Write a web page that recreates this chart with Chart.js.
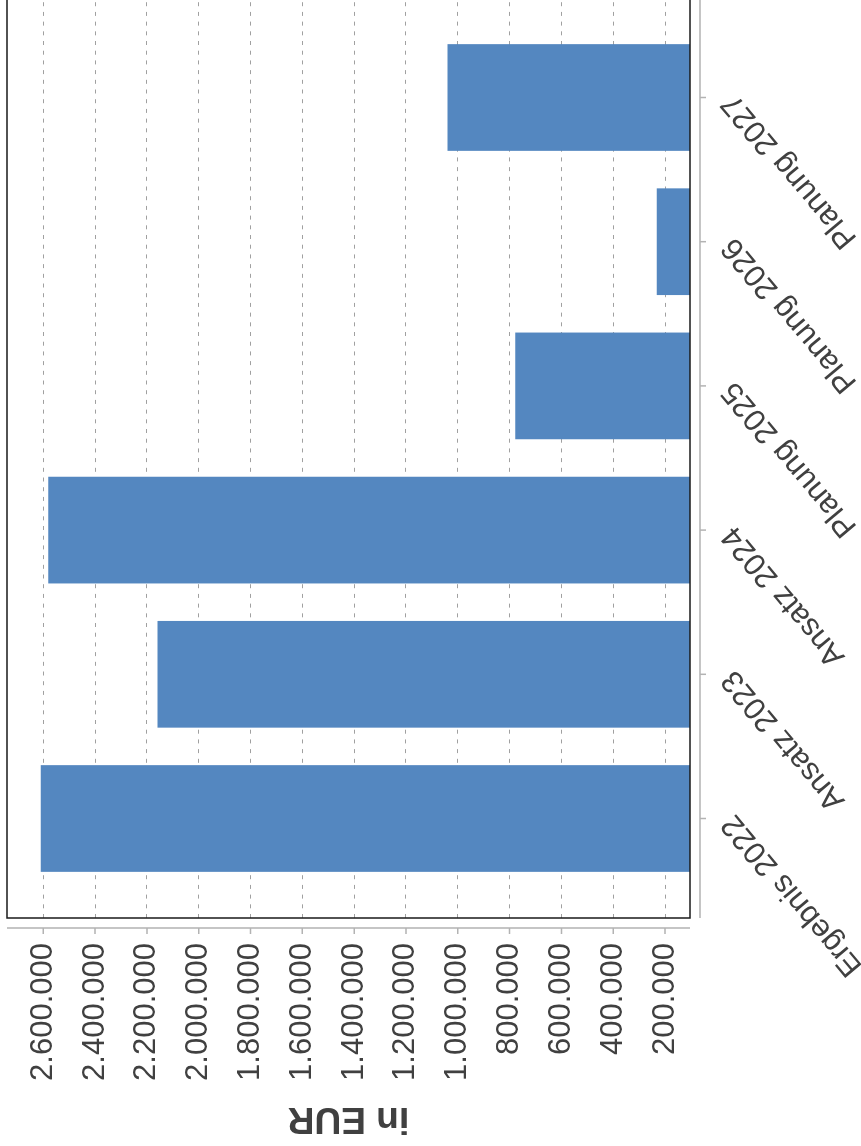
<!DOCTYPE html>
<html>
<head>
<meta charset="utf-8">
<script src="https://cdn.jsdelivr.net/npm/chart.js@4/dist/chart.umd.min.js"></script>
<style>
  html, body { margin: 0; padding: 0; background: #fff; overflow: hidden; }
  body { width: 861px; height: 1146px; position: relative; }
  /* chart is drawn upright, then turned a quarter left like the picture */
  #chart {
    position: absolute; left: 0; top: 0;
    transform-origin: 0 0;
    transform: translateY(1146px) rotate(-90deg);
  }
</style>
</head>
<body>
<canvas id="chart" width="1166" height="861"></canvas>
<script>
// Data
const categories = ['Ergebnis 2022', 'Ansatz 2023', 'Ansatz 2024', 'Planung 2025', 'Planung 2026', 'Planung 2027'];
const values = [2610000, 2159000, 2581000, 778000, 232000, 1040000];
const valueTicks = [200000, 400000, 600000, 800000, 1000000, 1200000, 1400000,
  1600000, 1800000, 2000000, 2200000, 2400000, 2600000];

const textColor = '#404040';
const fontFamily = "'Liberation Sans', Arial, sans-serif";

// German thousands separator
function fmt(v) {
  return String(v).replace(/\B(?=(\d{3})+(?!\d))/g, '.');
}

// black frame round the plot, grey axes set off by a few pixels
const framePlugin = {
  id: 'frame',
  afterDraw(chart) {
    const { ctx, chartArea: a, scales: { x, y } } = chart;
    ctx.save();
    ctx.strokeStyle = '#b3b3b3';
    ctx.lineWidth = 1.5;
    ctx.beginPath();
    ctx.moveTo(a.left - 10, a.top);
    ctx.lineTo(a.left - 10, a.bottom);
    y.ticks.forEach((t, i) => {
      const p = y.getPixelForTick(i);
      ctx.moveTo(a.left - 10, p);
      ctx.lineTo(a.left - 16, p);
    });
    ctx.moveTo(a.left, a.bottom + 10);
    ctx.lineTo(a.right, a.bottom + 10);
    x.ticks.forEach((t, i) => {
      const p = x.getPixelForTick(i);
      ctx.moveTo(p, a.bottom + 10);
      ctx.lineTo(p, a.bottom + 16);
    });
    ctx.stroke();
    ctx.strokeStyle = '#1a1a1a';
    ctx.lineWidth = 1.5;
    ctx.strokeRect(a.left, a.top, a.width, a.height);
    ctx.restore();
  }
};

const config = {
  type: 'bar',
  data: {
    datasets: [{
      label: 'in EUR',
      data: values.map((v, i) => ({ x: i, y: v })),
      backgroundColor: '#5487c0',
      borderWidth: 0,
      barPercentage: 0.74,
      categoryPercentage: 1.0
    }]
  },
  options: {
    responsive: false,
    animation: false,
    layout: { padding: { top: 7, left: 0, right: 18, bottom: 0 } },
    plugins: {
      legend: { display: false },
      tooltip: { enabled: false }
    },
    scales: {
      x: {
        type: 'linear',
        min: -0.69,
        max: 5.69,
        offset: false,
        grid: { display: false, drawTicks: false, offset: false },
        border: { display: false },
        afterBuildTicks: (s) => { s.ticks = categories.map((c, i) => ({ value: i })); },
        afterFit: (s) => { s.height = 171; s.paddingLeft = 0; s.paddingRight = 0; },
        ticks: {
          autoSkip: false,
          minRotation: 40,
          maxRotation: 40,
          padding: 24,
          color: textColor,
          font: { family: fontFamily, size: 31 },
          callback: (v) => categories[v]
        }
      },
      y: {
        min: 103500,
        max: 2740000,
        beginAtZero: false,
        grid: { color: '#a0a0a0', lineWidth: 1, drawTicks: false },
        border: { display: false, dash: [4, 5.7] },
        afterBuildTicks: (s) => { s.ticks = valueTicks.map(v => ({ value: v })); },
        afterFit: (s) => { s.width = 228; s.paddingTop = 0; s.paddingBottom = 0; },
        ticks: {
          padding: 25,
          color: textColor,
          font: { family: fontFamily, size: 31 },
          callback: (v) => fmt(v)
        },
        title: {
          display: true,
          text: 'in EUR',
          color: textColor,
          font: { family: fontFamily, size: 37, weight: 'bold' },
          padding: { top: 6, bottom: 0 }
        }
      }
    }
  },
  plugins: [framePlugin]
};

const myChart = new Chart(document.getElementById('chart'), config);
</script>
</body>
</html>
